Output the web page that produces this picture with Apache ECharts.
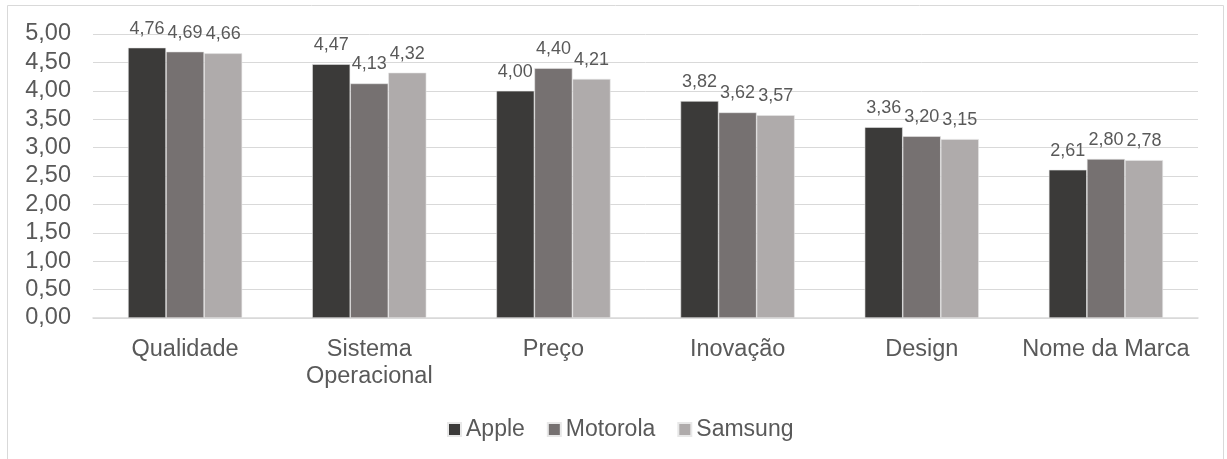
<!DOCTYPE html>
<html>
<head>
<meta charset="utf-8">
<script src="https://cdn.jsdelivr.net/npm/echarts@6/dist/echarts.min.js"></script>
<style>
  html, body { margin: 0; padding: 0; background: #fff; }
  #chart { width: 1227px; height: 459px; }
</style>
</head>
<body>
<div id="chart"></div>
<script>
// categorias e valores
const categories = ['Qualidade', 'Sistema\nOperacional', 'Preço', 'Inovação', 'Design', 'Nome da Marca']
const apple = [4.76, 4.47, 4.00, 3.82, 3.36, 2.61]
const motorola = [4.69, 4.13, 4.40, 3.62, 3.20, 2.80]
const samsung = [4.66, 4.32, 4.21, 3.57, 3.15, 2.78]

const textColor = '#595959'
const fontFamily = '"Liberation Sans", Arial, sans-serif'
const fmt = v => v.toFixed(2).replace('.', ',')

const chart = echarts.init(document.getElementById('chart'))

function makeSeries(name, data, color) {
  return {
    name: name,
    type: 'bar',
    data: data,
    barGap: '0%',
    barCategoryGap: '38%',
    itemStyle: { color: color, borderColor: '#e8e8e8', borderWidth: 0.6 },
    label: {
      show: true,
      position: 'top',
      distance: 10,
      color: textColor,
      fontFamily: fontFamily,
      fontSize: 18,
      formatter: p => fmt(p.value)
    }
  }
}

chart.setOption({
  animation: false,
  textStyle: { fontFamily: fontFamily },
  graphic: [{
    type: 'rect',
    shape: { x: 7.5, y: 5.5, width: 1216, height: 460 },
    style: { fill: 'none', stroke: '#d9d9d9', lineWidth: 1 },
    silent: true
  }],
  grid: { left: 93, right: 29, top: 34, bottom: 141 },
  legend: {
    top: 413,
    left: 442,
    icon: 'rect',
    itemWidth: 13,
    itemHeight: 13,
    itemGap: 22,
    textStyle: { color: textColor, fontSize: 23, fontFamily: fontFamily },
    data: ['Apple', 'Motorola', 'Samsung']
  },
  xAxis: {
    type: 'category',
    data: categories,
    axisLine: { lineStyle: { color: '#d9d9d9', width: 1.5 } },
    axisTick: { show: false },
    axisLabel: {
      color: textColor,
      fontSize: 23.5,
      fontFamily: fontFamily,
      margin: 18,
      lineHeight: 27,
      interval: 0
    }
  },
  yAxis: {
    type: 'value',
    min: 0,
    max: 5,
    interval: 0.5,
    axisLine: { show: false },
    axisTick: { show: false },
    splitLine: { lineStyle: { color: '#d9d9d9', width: 1 } },
    axisLabel: {
      color: textColor,
      fontSize: 23.5,
      fontFamily: fontFamily,
      margin: 22,
      formatter: v => fmt(v)
    }
  },
  series: [
    makeSeries('Apple', apple, '#3b3a39'),
    makeSeries('Motorola', motorola, '#767171'),
    makeSeries('Samsung', samsung, '#afabab')
  ]
})
</script>
</body>
</html>
